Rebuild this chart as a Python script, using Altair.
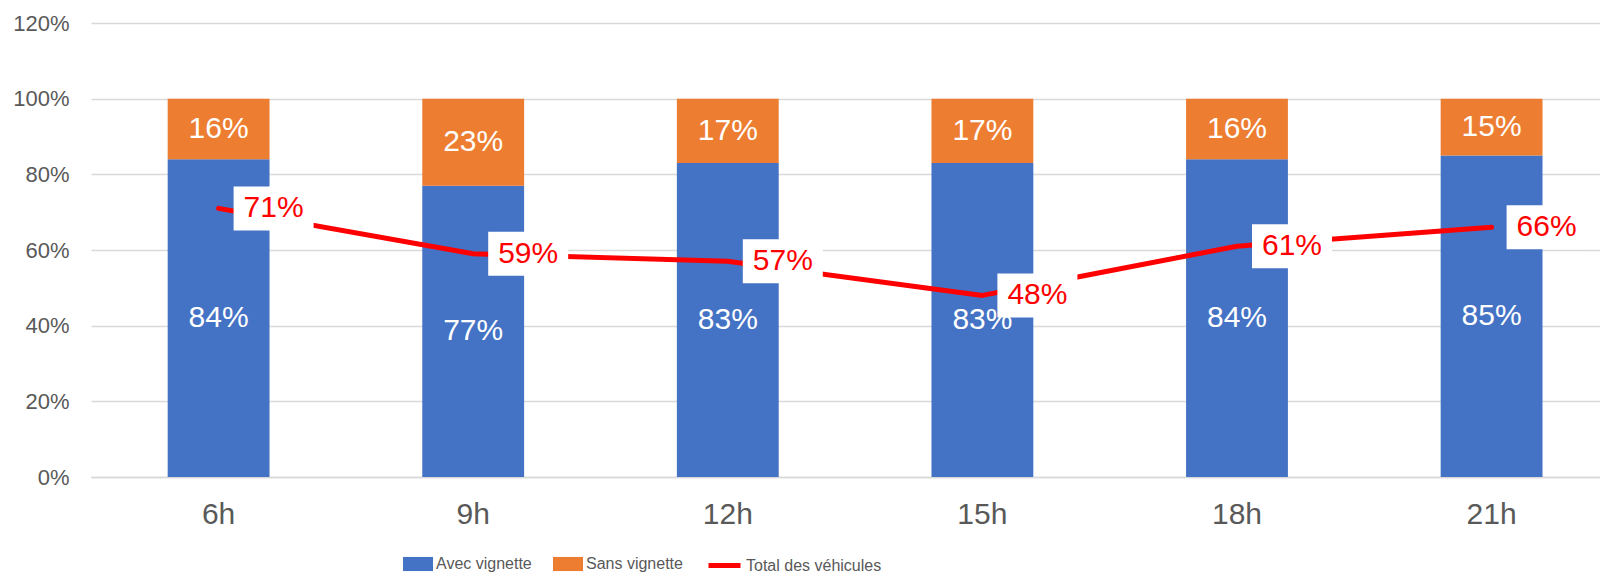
import altair as alt
import pandas as pd

hours = ["6h", "9h", "12h", "15h", "18h", "21h"]
avec = [84, 77, 83, 83, 84, 85]
sans = [16, 23, 17, 17, 16, 15]
total = [71, 59, 57, 48, 61, 66]
series = ["Avec vignette", "Sans vignette"]
line_name = "Total des véhicules"
y_ticks = [0, 0.2, 0.4, 0.6, 0.8, 1.0, 1.2]

bars = pd.DataFrame({
    "hour": hours * 2,
    "series": [series[0]] * len(hours) + [series[1]] * len(hours),
    "value": [v / 100 for v in avec + sans],
    "ord": [0] * len(hours) + [1] * len(hours),
})
line = pd.DataFrame({
    "hour": hours,
    "total": [v / 100 for v in total],
    "name": [line_name] * len(hours),
})

FONT = "Liberation Sans"
GREY = "#595959"

xscale = alt.Scale(domain=hours, paddingInner=0.6, paddingOuter=0.2635, align=0.5715)
yscale = alt.Scale(domain=[0, 1.2], nice=False)

xaxis = alt.Axis(title=None, labelAngle=0, labelFontSize=30, labelColor=GREY, labelFont=FONT,
                 ticks=False, labelPadding=22, domainColor="#D9D9D9", domainWidth=1.5, grid=False)
yaxis = alt.Axis(title=None, values=y_ticks, format=".0%", labelFontSize=22, labelColor=GREY,
                 labelFont=FONT, ticks=False, domain=False, labelPadding=22,
                 gridColor="#D9D9D9", gridWidth=1.3)

x = alt.X("hour:N", scale=xscale, sort=hours, axis=xaxis)

bar_layer = alt.Chart(bars).mark_bar().encode(
    x=x,
    y=alt.Y("value:Q", stack="zero", scale=yscale, axis=yaxis),
    color=alt.Color("series:N", scale=alt.Scale(domain=series, range=["#4472C4", "#ED7D31"]),
                    legend=alt.Legend(orient="none", legendX=312, legendY=526, direction="horizontal",
                                      title=None, symbolType="M-1,-0.47H1V0.47H-1Z", symbolSize=900,
                                      symbolStrokeWidth=0, labelFontSize=16, labelFont=FONT,
                                      labelColor=GREY, columnPadding=21, labelOffset=3, padding=0)),
    order=alt.Order("ord:Q"),
)

bar_text = alt.Chart(bars).transform_stack(
    stack="value", groupby=["hour"], as_=["y0", "y1"], sort=[alt.SortField("ord")]
).transform_calculate(
    mid="(datum.y0 + datum.y1) / 2", lab="format(datum.value, '.0%')"
).mark_text(color="white", fontSize=30, font=FONT, baseline="middle", align="center").encode(
    x=x,
    y=alt.Y("mid:Q", scale=yscale, axis=yaxis),
    text="lab:N",
)

line_layer = alt.Chart(line).mark_line(strokeWidth=5, strokeCap="round", strokeJoin="round").encode(
    x=x,
    y=alt.Y("total:Q", scale=yscale, axis=yaxis),
    stroke=alt.Stroke("name:N", scale=alt.Scale(domain=[line_name], range=["#FF0000"]),
                      legend=alt.Legend(orient="none", legendX=615, legendY=524, title=None,
                                        symbolType="stroke", symbolSize=1024, symbolStrokeWidth=5,
                                        labelFontSize=16, labelFont=FONT,
                                        labelColor=GREY, labelOffset=3, padding=0)),
)

box_layer = alt.Chart(line).mark_point(
    shape="M-1,-0.55H1V0.55H-1Z", size=6400, filled=True, color="white", opacity=1, xOffset=55
).encode(
    x=x,
    y=alt.Y("total:Q", scale=yscale, axis=yaxis),
)

line_text = alt.Chart(line).transform_calculate(
    lab="format(datum.total, '.0%')"
).mark_text(color="#FF0000", fontSize=30, font=FONT, dx=55, align="center", baseline="middle").encode(
    x=x,
    y=alt.Y("total:Q", scale=yscale, axis=yaxis),
    text="lab:N",
)

chart = alt.layer(bar_layer, bar_text, line_layer, box_layer, line_text).properties(
    width=1509, height=454,
    autosize=alt.AutoSizeParams(type="none"),
    padding={"left": 83, "top": 15, "right": 0, "bottom": 97},
    background="white",
).configure_view(stroke=None)

chart.save("out.html", embed_options={"renderer": "svg", "actions": False})
